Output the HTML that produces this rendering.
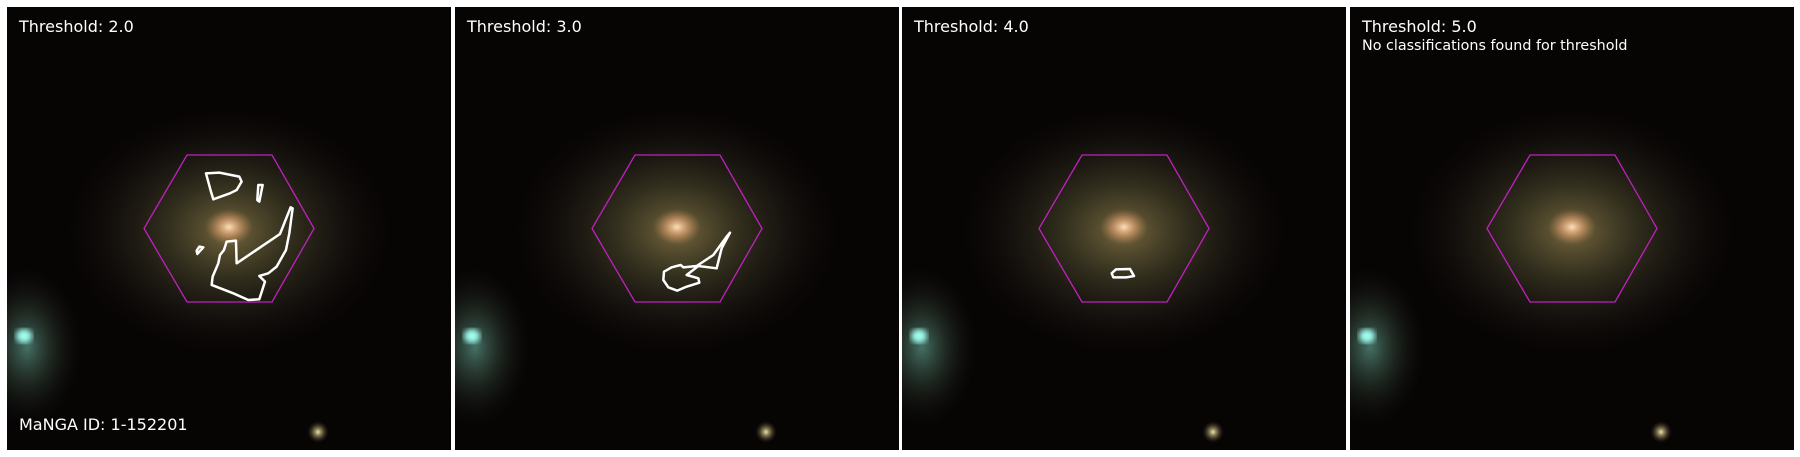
<!DOCTYPE html>
<html><head><meta charset="utf-8">
<style>
html,body{margin:0;padding:0;background:#fff;width:1800px;height:457px;overflow:hidden}
svg{display:block}
text{font-family:"DejaVu Sans","Liberation Sans",sans-serif;fill:#fff}
</style></head>
<body>
<svg id="fig" width="1800" height="457" viewBox="0 0 1800 457">
<defs>
<clipPath id="pclip"><rect x="0" y="0" width="444" height="443"/></clipPath>
<filter id="blur3"><feGaussianBlur stdDeviation="3"/></filter>
<radialGradient id="gal" cx="0.5" cy="0.5" r="0.5">
<stop offset="0" stop-color="#b8a060" stop-opacity="0.85"/>
<stop offset="0.35" stop-color="#6e6a40" stop-opacity="0.6"/>
<stop offset="0.7" stop-color="#3a3428" stop-opacity="0.35"/>
<stop offset="1" stop-color="#1a1410" stop-opacity="0"/>
</radialGradient>
<radialGradient id="core" cx="0.5" cy="0.5" r="0.5">
<stop offset="0" stop-color="#ffe0b8" stop-opacity="1"/>
<stop offset="0.5" stop-color="#e0a070" stop-opacity="0.6"/>
<stop offset="1" stop-color="#b08050" stop-opacity="0"/>
</radialGradient>
<radialGradient id="halo" cx="0.5" cy="0.5" r="0.5">
<stop offset="0" stop-color="#60a090" stop-opacity="0.7"/>
<stop offset="0.5" stop-color="#405a48" stop-opacity="0.35"/>
<stop offset="1" stop-color="#202020" stop-opacity="0"/>
</radialGradient>
<radialGradient id="star2" cx="0.5" cy="0.5" r="0.5">
<stop offset="0" stop-color="#f0e8b0" stop-opacity="1"/>
<stop offset="0.5" stop-color="#a09060" stop-opacity="0.5"/>
<stop offset="1" stop-color="#302820" stop-opacity="0"/>
</radialGradient>
</defs>
</svg>
<script>
const thresholds = [2.0, 3.0, 4.0, 5.0];
const panelX = [7, 455, 902, 1350];
const subtitles = ["", "", "", "No classifications found for threshold"];
const contours1 = [
 [[618,520],[658,518],[718,530],[725,545],[710,570],[690,580],[640,598],[633,575]],
 [[775,555],[788,555],[778,605],[772,600]],
 [[598,740],[610,742],[592,762],[590,752]],
 [[680,725],[708,722],[710,790],[840,702],[872,622],[878,625],[868,700],[858,750],[830,800],[805,820],[778,828],[795,845],[778,898],[745,900],[700,880],[635,855],[638,830],[655,790],[660,765],[672,750]]
];
const contours2 = [
 [[450,278],[425,325],[410,385],[355,378],[320,405],[355,415],[358,428],[320,440],[292,452],[265,442],[250,420],[252,395],[275,382],[302,375],[310,382],[350,378],[400,345],[440,290]]
];
const contours3 = [
 [[245,400],[258,388],[300,387],[312,408],[290,412],[250,412]]
];
const contourSets = [contours1, contours2, contours3, []];
const contourOff = [[-7,-7],[125,133],[128,133],[0,0]];

const NS = "http://www.w3.org/2000/svg";
const svg = document.getElementById('fig');
function mk(tag, attrs, parent){const e=document.createElementNS(NS,tag);for(const k in attrs)e.setAttribute(k,attrs[k]);parent.appendChild(e);return e;}
const W=444,H=443;
thresholds.forEach((t,i)=>{
  const g=mk('g',{transform:`translate(${panelX[i]},7)`},svg);
  
  
  const img=mk('g',{'clip-path':'url(#pclip)'},g);
  const bg=mk('rect',{x:0,y:0,width:W,height:H,fill:'#070404'},img);
  
  
  mk('ellipse',{cx:222,cy:224,rx:165,ry:125,fill:'url(#gal)',opacity:0.75},img);
  mk('ellipse',{cx:222,cy:220,rx:24,ry:18,fill:'url(#core)'},img);
  mk('ellipse',{cx:20,cy:340,rx:55,ry:80,fill:'url(#halo)'},img);
  const st=mk('ellipse',{cx:17,cy:329,rx:8,ry:7,fill:'#a0fff0',filter:'url(#blur3)'},img);
  
  
  mk('circle',{cx:311,cy:425,r:11,fill:'url(#star2)'},img);
  const hex=mk('polygon',{points:'180,148 265,148 307,221.5 265,295 180,295 137,221.5',fill:'none',stroke:'#c020c0','stroke-width':1.3},g);
  
  
  const cg=mk('g',{transform:`translate(${contourOff[i][0]},${contourOff[i][1]}) scale(0.3333)`},g);
  contourSets[i].forEach(c=>{
    const p=mk('polygon',{points:c.map(q=>q.join(',')).join(' '),fill:'none',stroke:'#fff','stroke-width':7.5,'stroke-linejoin':'round'},cg);
    
    
  });
  const tt=mk('text',{x:12,y:25,'font-size':16},g);
  tt.textContent='Threshold: '+t.toFixed(1);
  
  
  if(subtitles[i]){
    const s=mk('text',{x:12,y:43,'font-size':14.3},g);
    s.textContent=subtitles[i];
    
    
  }
  if(i===0){
    const m=mk('text',{x:12,y:423,'font-size':16},g);
    m.textContent='MaNGA ID: 1-152201';
    
    
  }
});
</script>
</body></html>
